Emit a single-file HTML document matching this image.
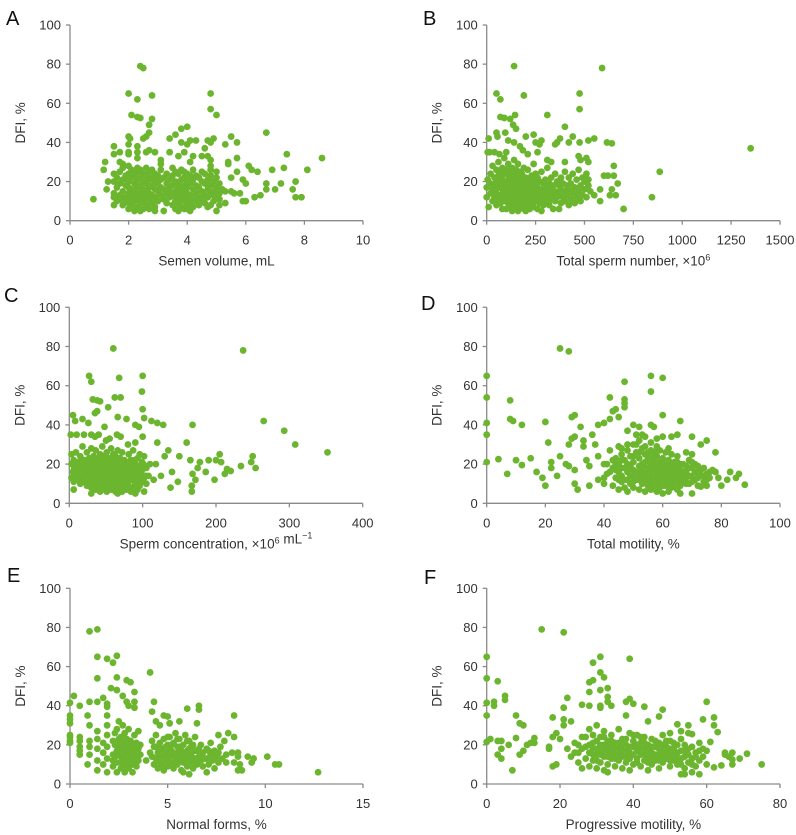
<!DOCTYPE html>
<html><head><meta charset="utf-8"><style>
html,body{margin:0;padding:0;background:#fff;}
svg{display:block;font-family:"Liberation Sans",Arial,sans-serif;}
</style></head><body>
<svg id="fig" width="796" height="835" viewBox="0 0 796 835"></svg>
<script>
// ---- Panel data: [x, DFI%] ----
const panelA = [[0.8,11],[2.4,79],[2.5,78],[2.0,65],[2.3,62],[2.8,64],[4.8,65],[4.8,57],[5.0,54],[2.1,54],[2.3,53],[2.4,52.5],[2.8,52],[2.7,49],[2.7,45],[2.6,43],[2.5,42],[2.0,43],[2.05,42],[3.8,47],[4.0,48],[3.6,44],[3.4,42],[3.8,40],[4.0,39],[4.1,41],[4.3,41],[4.7,41],[4.8,40],[4.9,42],[5.5,43],[5.7,40],[5.3,39],[6.7,45],[8.6,32],[7.4,34],[7.3,27],[6.9,26],[8.1,26],[7.7,20],[7.6,16],[7.7,12],[7.9,12],[7.2,19],[7.0,16],[6.7,19],[6.7,16],[6.5,13],[6.3,12],[6.2,26],[6.4,25],[6.1,28],[5.9,21],[6.0,19],[6.0,10],[5.9,10],[5.7,32],[5.7,25],[5.5,22],[5.4,30],[5.4,29],[5.2,16],[5.3,15],[5.5,15],[5.6,14],[5.8,14],[5.3,9],[5.0,5],[5.1,8],[1.2,30],[1.15,26],[1.25,16],[1.3,20],[1.5,38],[1.5,34],[1.5,8],[1.7,30],[1.8,29],[1.7,35],[2.0,39],[2.0,35],[2.0,34],[2.3,38],[2.3,35],[2.3,32],[2.6,35],[2.7,36],[2.9,35],[3.1,31],[3.1,29],[3.4,35],[3.7,33],[3.9,35],[4.2,33],[4.1,30],[4.5,33],[4.7,33],[4.8,31],[4.8,28],[4.6,37],
[1.5,12],[1.5,14],[1.5,20],[1.5,24],[1.6,10],[1.6,17],[1.6,22],[1.7,13],[1.7,11],[1.7,19],[1.7,25],[1.8,8],[1.8,15],[1.8,21],[1.8,27],[1.9,12],[1.9,18],[1.9,23],[1.9,10],[2.0,6],[2.0,9],[2.0,14],[2.0,17],[2.0,20],[2.0,24],[2.0,28],[2.1,11],[2.1,16],[2.1,22],[2.1,26],[2.1,8],[2.2,5],[2.2,13],[2.2,19],[2.2,23],[2.2,15],[2.2,10],[2.3,7],[2.3,12],[2.3,17],[2.3,21],[2.3,25],[2.3,27],[2.4,5],[2.4,9],[2.4,14],[2.4,18],[2.4,22],[2.4,26],[2.4,11],[2.5,6],[2.5,10],[2.5,16],[2.5,20],[2.5,24],[2.5,13],[2.6,8],[2.6,12],[2.6,15],[2.6,19],[2.6,23],[2.6,27],[2.7,6],[2.7,11],[2.7,17],[2.7,21],[2.7,25],[2.7,14],[2.8,9],[2.8,13],[2.8,18],[2.8,22],[2.8,26],[2.9,5],[2.9,7],[2.9,12],[2.9,16],[2.9,20],[2.9,24],[3.0,10],[3.0,15],[3.0,19],[3.0,23],[3.1,13],[3.1,17],[3.1,21],[3.1,26],[3.2,5],[3.2,11],[3.2,16],[3.2,22],[3.3,9],[3.3,14],[3.3,19],[3.3,24],[3.4,12],[3.4,17],[3.4,21],[3.4,15],[3.5,8],[3.5,13],[3.5,18],[3.5,23],[3.5,27],[3.6,6],[3.6,10],[3.6,15],[3.6,20],[3.6,25],[3.6,12],[3.7,5],[3.7,9],[3.7,14],[3.7,19],[3.7,24],[3.7,17],[3.8,7],[3.8,11],[3.8,16],[3.8,21],[3.8,26],[3.8,13],[3.9,6],[3.9,10],[3.9,15],[3.9,18],[3.9,22],[3.9,25],[4.0,8],[4.0,12],[4.0,17],[4.0,20],[4.0,24],[4.0,14],[4.0,6],[4.1,5],[4.1,9],[4.1,13],[4.1,19],[4.1,23],[4.2,7],[4.2,11],[4.2,16],[4.2,21],[4.2,26],[4.3,10],[4.3,14],[4.3,18],[4.3,23],[4.4,8],[4.4,12],[4.4,17],[4.4,22],[4.5,11],[4.5,15],[4.5,20],[4.5,25],[4.6,9],[4.6,13],[4.6,19],[4.6,24],[4.7,7],[4.7,12],[4.7,16],[4.7,21],[4.7,18],[4.8,8],[4.8,14],[4.8,18],[4.8,23],[4.8,26],[4.9,10],[4.9,15],[4.9,20],[4.9,13],[5.0,12],[5.0,17],[5.0,22],[5.0,25],[5.1,14],[5.1,19],[5.1,11]];

const panelB = [[140,79],[590,78],[50,65],[70,62],[190,64],[475,65],[475,57],[310,54],[145,54],[70,53],[90,52.5],[120,52],[135,49],[150,47],[400,48],[10,42],[50,45],[55,43],[95,45],[110,41],[140,40],[200,43],[240,44],[250,40],[280,41],[270,39],[350,39],[360,40],[375,42],[420,40],[440,43],[475,40],[520,41],[550,42],[615,40],[640,39.5],[1350,37],[885,25],[845,12],[700,6],[5,35],[15,35],[40,35],[65,34],[100,35],[170,38],[185,36],[210,34],[260,35],[310,31],[330,30],[400,30],[470,33],[480,31],[510,32],[520,30],[650,28],[670,19],[650,23],[620,23],[600,23],[580,16],[580,10],[640,16],[630,13],[660,13],[550,13],[530,15],[5,21],[10,7],[0,12],[0,17],
[20,14],[20,19],[20,24],[30,10],[30,16],[30,28],[40,12],[40,18],[40,22],[50,8],[50,14],[50,20],[50,26],[60,11],[60,17],[60,23],[60,30],[70,9],[70,13],[70,19],[70,25],[80,6],[80,12],[80,16],[80,21],[80,27],[90,10],[90,15],[90,18],[90,24],[90,32],[100,6],[100,12],[100,17],[100,20],[100,26],[110,9],[110,14],[110,19],[110,23],[110,29],[120,7],[120,11],[120,16],[120,21],[120,25],[130,5],[130,10],[130,13],[130,18],[130,22],[130,27],[140,8],[140,12],[140,15],[140,20],[140,24],[140,31],[150,6],[150,10],[150,14],[150,17],[150,22],[150,26],[160,5],[160,9],[160,13],[160,19],[160,23],[160,29],[170,7],[170,11],[170,16],[170,21],[170,25],[180,8],[180,12],[180,15],[180,18],[180,24],[190,6],[190,10],[190,14],[190,20],[190,27],[200,5],[200,9],[200,13],[200,17],[200,22],[210,8],[210,12],[210,16],[210,21],[210,26],[220,6],[220,11],[220,15],[220,19],[230,9],[230,13],[230,18],[230,23],[240,7],[240,12],[240,16],[240,21],[240,29],[250,10],[250,14],[250,19],[250,24],[260,6],[260,12],[260,17],[260,22],[270,9],[270,14],[270,20],[280,5],[280,11],[280,16],[280,25],[290,8],[290,13],[290,19],[300,10],[300,15],[300,21],[310,12],[310,17],[310,27],[320,8],[320,14],[320,19],[330,11],[330,16],[330,22],[340,6],[340,13],[340,18],[350,10],[350,15],[350,24],[360,12],[360,20],[370,6],[370,14],[370,18],[380,9],[380,16],[380,22],[390,12],[390,19],[400,10],[400,15],[400,25],[410,13],[410,18],[420,8],[420,16],[420,22],[430,11],[430,19],[440,14],[440,24],[450,9],[450,17],[460,12],[460,21],[470,15],[470,26],[480,10],[480,18],[490,13],[490,22],[500,16],[500,20],[510,12],[510,24],[520,18],[520,21]];

const panelC = [[60,79],[237,78],[27,65],[30,62],[68,64],[100,65],[99,57],[62,54],[70,54],[32,53],[38,52.5],[42,52],[53,49],[35,46],[38,47],[100,48],[102,43.5],[5,45],[18,43],[26,41],[8,42],[265,42],[293,37],[308,30],[352,26],[168,40],[128,40],[112,42],[120,41],[78,43],[90,40],[95,39],[66,44],[48,39],[250,24],[248,21],[254,18],[234,19],[220,16.5],[215,17.5],[205,25],[207,21],[200,22],[212,15],[198,12],[190,22],[186,16],[178,21],[175,18],[172,12],[167,9],[167,6],[168,15],[165,22],[160,31],[150,24],[148,11],[140,16],[138,8],[135,27],[130,24],[125,14],[120,31],[118,20],[115,12],[2,35],[10,35],[20,35],[30,35],[35,34],[40,35],[50,32],[55,33],[65,35],[70,34],[80,30],[90,31],[100,34],[6,7],[30,5],
[3,13],[3,20],[3,25],[6,11],[6,17],[6,22],[9,14],[9,19],[9,26],[12,12],[12,16],[12,21],[15,10],[15,18],[15,24],[18,13],[18,20],[18,29],[21,11],[21,16],[21,22],[24,9],[24,14],[24,19],[24,26],[27,12],[27,17],[27,23],[30,8],[30,15],[30,20],[30,28],[33,10],[33,13],[33,18],[33,24],[36,7],[36,12],[36,16],[36,21],[36,27],[39,9],[39,14],[39,19],[39,23],[42,6],[42,11],[42,15],[42,20],[42,25],[45,8],[45,13],[45,17],[45,22],[45,29],[48,10],[48,14],[48,19],[48,24],[51,6],[51,12],[51,16],[51,21],[51,26],[54,9],[54,13],[54,18],[54,23],[57,7],[57,11],[57,15],[57,20],[57,28],[60,8],[60,12],[60,17],[60,22],[60,25],[63,6],[63,10],[63,14],[63,19],[63,24],[66,5],[66,11],[66,16],[66,21],[66,27],[69,8],[69,13],[69,18],[69,23],[72,6],[72,10],[72,15],[72,20],[72,26],[75,9],[75,13],[75,17],[75,22],[78,7],[78,11],[78,16],[78,21],[81,9],[81,14],[81,19],[81,25],[84,6],[84,12],[84,17],[84,22],[87,8],[87,13],[87,18],[87,27],[90,5],[90,10],[90,15],[90,20],[93,7],[93,12],[93,16],[93,23],[96,9],[96,14],[96,19],[96,25],[99,11],[99,17],[99,21],[102,6],[102,13],[102,24],[105,10],[105,18],[108,14],[110,20],
[5,16],[8,20],[11,18],[14,14],[17,22],[20,18],[23,12],[26,20],[29,14],[32,22],[35,17],[38,11],[41,18],[44,15],[47,21],[50,17],[53,11],[56,19],[59,14],[62,20],[65,13],[68,16],[71,22],[74,15],[77,19],[80,13],[83,20],[86,15],[89,22],[92,18],[95,12],[98,16],[101,20],[104,14],[60,10],[70,12],[80,9],[50,9],[40,9],[30,11]];

const panelD = [[25,79],[28,77.5],[0,65],[0,54],[0,41],[0,35],[0,21],[8,52.5],[8,43],[9,42],[12,40],[4,22.5],[7,15],[10,22],[12,19.5],[15,23],[17,16],[19,13],[20,9],[20,41.5],[21,31],[22,21],[22,18],[24,14],[25,24],[27,20],[28,19],[28,30],[29,44],[30,45],[29,33],[30,34],[30,17],[30,10],[31,7],[32,39],[33,32],[33,29],[34,22],[35,19],[35,9],[36,35],[37,30],[38,40],[40,41],[42,54],[42,43],[43,47],[44,48],[45,44],[47,62],[47,53],[47,51],[47,49],[56,65],[56,57],[60,64],[60,45],[56,40],[57,39],[66,42],[65,35],[70,34],[73,30],[75,32],[78,26],[70,25],[68,26],[80,9],[82,12],[83,16],[85,13],[86,15],[88,9.5],[78,16],[79,13],[75,9],[73,8.5],[70,5],[66,5],[50,40],[52,39],[48,37],[51,35],[53,35],[54,34],[60,34],[58,33],[63,34],
[38,12],[38,24],[40,10],[40,20],[41,15],[42,27],[43,9],[43,18],[44,13],[44,23],[45,7],[45,16],[45,20],[45,29],[46,11],[46,14],[46,25],[47,8],[47,18],[47,22],[48,6],[48,12],[48,16],[48,27],[49,10],[49,19],[49,24],[50,8],[50,14],[50,17],[50,21],[51,12],[51,26],[51,30],[52,7],[52,15],[52,19],[52,23],[53,10],[53,13],[53,17],[53,28],[54,6],[54,12],[54,21],[54,25],[55,9],[55,15],[55,18],[55,23],[56,7],[56,11],[56,14],[56,20],[56,27],[57,9],[57,17],[57,22],[57,25],[58,6],[58,12],[58,15],[58,19],[58,24],[59,8],[59,11],[59,16],[59,21],[59,27],[60,5],[60,13],[60,18],[60,23],[61,9],[61,15],[61,20],[61,26],[62,6],[62,11],[62,17],[62,22],[63,8],[63,13],[63,19],[63,25],[64,10],[64,15],[64,21],[65,7],[65,12],[65,18],[65,24],[66,9],[66,14],[66,20],[67,11],[67,16],[68,13],[68,19],[69,10],[69,22],[70,14],[70,18],[71,12],[71,20],[72,9],[72,16],[73,14],[74,11],[74,18],[75,15],[76,13],[77,17],
[44,20],[45,12],[46,18],[46,22],[47,12],[48,20],[49,14],[50,11],[50,24],[51,16],[52,12],[52,26],[53,20],[54,15],[54,18],[55,12],[55,26],[56,17],[56,23],[57,13],[57,19],[58,9],[58,17],[58,27],[59,13],[59,19],[60,9],[60,15],[60,20],[61,12],[61,17],[62,14],[62,19],[63,11],[63,16],[64,13],[64,18],[65,15],[65,21],[66,11],[66,17],[67,13],[67,20],[68,10],[68,16],[69,14],[69,18],[70,11],[70,21],[71,16],[72,13],[72,19],[73,17],[74,14],[75,12],[76,16],[44,17],[43,22],[42,16],[41,20],[40,13],[46,28],[50,30],[54,29],[58,29],[62,28],[48,30],[52,32],[56,31]];

const panelE = [[1.0,78],[1.4,79],[1.4,65],[1.4,54],[1.9,64],[2.2,62],[2.4,65.5],[2.4,54.5],[2.4,48],[2.1,49],[2.9,53],[3.1,52],[3.3,47],[4.1,57],[0.2,45],[0,41.5],[0.5,40],[1.0,42],[1.4,42],[1.7,44],[1.9,41],[1.9,39.5],[2.7,45],[2.9,42],[3.0,40],[3.3,42],[3.3,39],[4.3,42],[4.2,37],[4.8,35],[5.0,34.5],[5.6,32],[6.0,38.5],[6.6,40],[6.6,38],[6.5,31],[5.1,31],[4.6,30],[4.4,32],[0.9,35],[0,35],[0,33],[0,31],[0,25],[0,24],[0,22],[0,21],[1.0,30],[1.9,30],[1.9,35],[0.5,24],[0.5,22],[0.5,19],[0.5,17],[0.5,15],[0.9,10],[1.0,15],[1.0,19],[1.0,22],[1.4,7],[1.9,6],[8.4,35],[8.1,26],[8.4,24],[7.6,25],[7.9,22],[8.0,11],[8.3,16],[8.6,16],[8.6,14],[8.4,11],[8.7,10],[8.8,7],[8.6,7],[9.1,14],[9.4,13],[9.3,11],[10.1,14],[10.5,10],[10.7,10],[12.7,6],[7.0,6],[6.1,5],[5.8,6],
[1.4,12],[1.4,18],[1.4,23],[1.4,27],[1.7,10],[1.7,16],[1.7,21],[1.9,13],[1.9,19],[1.9,25],[2.2,9],[2.2,15],[2.2,22],[2.4,6],[2.4,11],[2.4,17],[2.4,20],[2.4,28],[2.5,32],[2.6,8],[2.6,14],[2.6,24],[2.7,12],[2.7,18],[2.7,21],[2.7,30],[2.8,6],[2.8,10],[2.8,16],[2.8,26],[2.9,14],[2.9,20],[2.9,23],[3.0,8],[3.0,12],[3.0,17],[3.0,28],[3.1,10],[3.1,15],[3.1,22],[3.2,6],[3.2,13],[3.2,19],[3.3,11],[3.3,16],[3.3,25],[3.4,9],[3.4,14],[3.4,21],[3.5,12],[3.5,18],[3.5,27],[3.6,15],[3.6,20],[3.9,12],[4.1,16],[4.2,22],[4.3,10],[4.3,19],[4.4,13],[4.4,25],[4.5,8],[4.5,16],[4.6,11],[4.6,21],[4.7,14],[4.7,18],[4.8,7],[4.8,23],[4.9,12],[4.9,16],[5.0,9],[5.0,20],[5.1,14],[5.1,24],[5.2,11],[5.2,17],[5.3,8],[5.3,21],[5.4,13],[5.4,26],[5.5,10],[5.5,16],[5.6,19],[5.6,23],[5.7,7],[5.7,14],[5.8,11],[5.8,20],[5.9,16],[5.9,25],[6.0,9],[6.0,13],[6.1,18],[6.1,22],[6.2,11],[6.2,15],[6.3,8],[6.3,20],[6.4,13],[6.4,24],[6.5,10],[6.5,17],[6.6,14],[6.7,12],[6.7,20],[6.8,9],[6.8,16],[7.0,13],[7.0,18],[7.1,10],[7.2,15],[7.2,21],[7.3,12],[7.4,8],[7.4,17],[7.5,14],[7.6,11],[7.7,19],[7.8,13],
[2.5,15],[2.5,19],[2.5,23],[2.6,11],[2.6,18],[2.6,21],[2.7,9],[2.8,13],[2.8,20],[2.9,10],[2.9,18],[3.0,14],[3.0,21],[3.1,13],[3.1,18],[3.2,10],[3.2,16],[3.3,14],[3.3,20],[3.4,11],[3.4,18],[2.3,14],[2.3,20],[2.3,26],[2.2,12],[4.5,13],[4.6,18],[4.7,10],[4.8,15],[4.9,19],[5.0,13],[5.1,17],[5.2,20],[5.3,15],[5.4,10],[5.5,19],[5.6,12],[5.7,17],[5.8,15],[5.9,12],[6.0,17],[6.1,14],[6.2,19],[6.3,13],[6.4,17],[6.5,12],[6.6,18],[6.9,13],[7.1,17],[4.4,19],[4.2,14],[5.0,24],[5.5,23],[6.0,22],[7.6,16],[8.0,15]];

const panelF = [[15,79],[21,77.5],[0,65],[0,54],[0,41.5],[0,35],[0,21.5],[1,23],[2,42],[2,40],[3,52.5],[3,22],[3,15],[4,22],[4,18],[4,13],[5,45],[5,43],[6,20],[7,7],[8,35],[8,23.5],[9,31],[9,15],[10,30],[10,17],[11,20],[12,21],[13,23.5],[13,21],[17,19],[17,18],[18,24],[18,34],[18,9],[19,10],[19,26],[20,23],[21,39],[21,33],[21,30],[22,44],[23,32],[29,62],[31,65],[31,57],[32,54.5],[31,48],[33,49],[28,52],[29,53],[28,47],[26,40.5],[28,40],[33,44.5],[33,42],[34,40],[31,40],[31,39],[39,64],[38,42],[39,43.5],[40,41],[43,39.5],[48,38],[47,34.5],[44,32],[60,42],[59,33],[62,34],[62,30],[63,26.5],[61,21.5],[55,30],[56,25.5],[52,30.5],[50,26],[55,26],[53,27],[65,15],[65,16],[66,14],[67,16],[67,12.5],[67,10],[69,13],[71,15.5],[75,10],[64,9.5],[62,8.5],[58,5],[56,6],[54,5],[53,5],[26,8],[33,6],
[22,18],[23,14],[24,21],[25,11],[25,16],[26,24],[27,13],[27,19],[28,9],[28,16],[28,28],[29,12],[29,21],[29,25],[30,8],[30,15],[30,18],[30,30],[31,11],[31,20],[31,24],[32,7],[32,14],[32,17],[32,27],[33,10],[33,19],[33,22],[34,13],[34,16],[34,25],[35,9],[35,18],[35,21],[36,12],[36,15],[36,28],[37,8],[37,17],[37,23],[38,11],[38,14],[38,20],[38,35],[39,7],[39,16],[39,26],[40,10],[40,19],[40,22],[41,13],[41,17],[41,25],[42,9],[42,15],[42,21],[43,12],[43,18],[43,24],[44,7],[44,14],[44,20],[45,10],[45,16],[45,23],[46,12],[46,19],[47,8],[47,15],[47,21],[48,11],[48,17],[48,25],[49,13],[49,19],[50,9],[50,15],[50,22],[51,12],[51,18],[52,10],[52,16],[52,20],[53,13],[53,23],[54,8],[54,17],[55,11],[55,15],[56,13],[56,19],[57,9],[57,16],[58,12],[58,21],[59,14],[60,10],[60,17],
[28,20],[29,15],[29,18],[30,12],[30,22],[31,15],[31,17],[32,20],[32,24],[33,14],[33,17],[34,19],[34,22],[35,13],[35,15],[36,18],[36,21],[37,14],[37,20],[38,17],[38,23],[39,13],[39,19],[40,15],[40,25],[41,11],[41,20],[42,18],[42,24],[43,15],[43,21],[44,17],[44,11],[45,19],[45,13],[46,15],[46,22],[47,18],[47,12],[48,14],[48,20],[49,16],[49,22],[50,12],[50,18],[51,15],[51,21],[52,13],[53,17],[53,10],[54,14],[54,20],[55,18],[56,10],[57,14],[58,17],[59,18],[27,24],[26,18],[25,20],[24,16]];

const yTicks = [0,20,40,60,80,100];
const xTicksA = [0,2,4,6,8,10];
const xTicksB = [0,250,500,750,1000,1250,1500];
const xTicksC = [0,100,200,300,400];
const xTicksD = [0,20,40,60,80,100];
const xTicksE = [0,5,10,15];
const xTicksF = [0,20,40,60,80];

const NS = "http://www.w3.org/2000/svg";
const svg = document.getElementById('fig');
function mk(tag, attrs, parent){
  const e = document.createElementNS(NS, tag);
  for (const k in attrs) e.setAttribute(k, attrs[k]);
  parent.appendChild(e);
  return e;
}
function txt(parent, x, y, s, anchor, size, fill){
  const t = mk('text', {x:x, y:y, 'text-anchor':anchor, 'font-size':size, fill:fill||'#333'}, parent);
  t.textContent = s;
  return t;
}

const panels = [
  {id:'a', letter:'A', data:panelA, ticks:xTicksA, xmax:10,   x0:70,    x1:363, y0:220.7, y1:25,    lx:6,   ly:25,  title:'Semen volume, mL'},
  {id:'b', letter:'B', data:panelB, ticks:xTicksB, xmax:1500, x0:486.7, x1:780, y0:220.7, y1:25,    lx:423, ly:25,  title:'Total sperm number, ×10<sup>6</sup>'},
  {id:'c', letter:'C', data:panelC, ticks:xTicksC, xmax:400,  x0:69.3,  x1:362.7, y0:503.3, y1:307.3, lx:4, ly:302, title:'Sperm concentration, ×10<sup>6</sup> mL<sup>−1</sup>'},
  {id:'d', letter:'D', data:panelD, ticks:xTicksD, xmax:100,  x0:486.7, x1:780, y0:503.3, y1:307.3, lx:421, ly:310, title:'Total motility, %'},
  {id:'e', letter:'E', data:panelE, ticks:xTicksE, xmax:15,   x0:70,    x1:363, y0:784,   y1:588.3, lx:7,   ly:582, title:'Normal forms, %'},
  {id:'f', letter:'F', data:panelF, ticks:xTicksF, xmax:80,   x0:486.7, x1:780, y0:784,   y1:588.3, lx:424, ly:584, title:'Progressive motility, %'}
];

panels.forEach(p => {
  const g = mk('g', {}, svg);
  
  
  const sx = v => p.x0 + (v / p.xmax) * (p.x1 - p.x0);
  const sy = v => p.y0 - (v / 100) * (p.y0 - p.y1);

  const lab = txt(g, p.lx, p.ly, p.letter, 'start', 20, '#111');
  
  

  const ax = mk('g', {stroke:'#8a8a8a', 'stroke-width':1.3, fill:'none'}, g);
  
  
  mk('line', {x1:p.x0, y1:p.y0, x2:p.x0, y2:p.y1}, ax);
  mk('line', {x1:p.x0, y1:p.y0, x2:p.x1, y2:p.y0}, ax);
  yTicks.forEach(t => {
    mk('line', {x1:p.x0-4, y1:sy(t), x2:p.x0, y2:sy(t)}, ax);
    const tl = txt(g, p.x0-9, sy(t)+4.5, String(t), 'end', 13);
    
    
  });
  p.ticks.forEach(t => {
    mk('line', {x1:sx(t), y1:p.y0, x2:sx(t), y2:p.y0+4}, ax);
    const tl = txt(g, sx(t), p.y0+24, String(t), 'middle', 13);
    
    
  });

  const cy = (p.y0 + p.y1) / 2;
  const yt = txt(g, 0, 0, 'DFI, %', 'middle', 13.5);
  yt.setAttribute('transform', 'translate(' + (p.x0 - 45) + ',' + cy + ') rotate(-90)');
  
  

  const xt = mk('text', {x:(p.x0+p.x1)/2, y:p.y0+45, 'text-anchor':'middle', 'font-size':13.5, fill:'#333'}, g);
  
  
  const parts = p.title.split(/(<sup>.*?<\/sup>)/);
  parts.forEach(s => {
    if (!s) return;
    const ts = mk('tspan', {}, xt);
    if (s.startsWith('<sup>')) {
      ts.textContent = s.replace(/<\/?sup>/g, '');
      ts.setAttribute('font-size', '9');
      ts.setAttribute('dy', '-5');
      const after = mk('tspan', {dy:'5'}, xt);
      after.textContent = '';
    } else {
      ts.textContent = s;
    }
  });

  const pg = mk('g', {fill:'#6cb52e'}, g);
  
  
  p.data.forEach(d => {
    const c = mk('circle', {cx:sx(d[0]), cy:sy(d[1]), r:3.4}, pg);
    
    
  });
});
</script>
</body></html>
